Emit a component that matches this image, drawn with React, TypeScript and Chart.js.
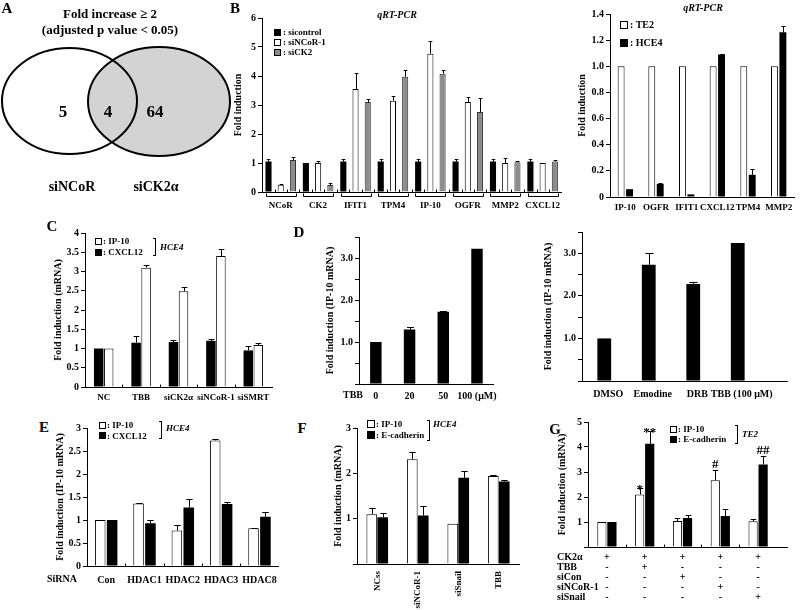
import React, { useEffect, useRef } from 'react';
import { Chart, registerables } from 'chart.js';
Chart.register(...registerables);

const FONT = '"Liberation Serif", "Times New Roman", serif';
Chart.defaults.font.family = FONT;
Chart.defaults.font.weight = 'bold';
Chart.defaults.color = '#000';

// ---------- DATA ----------
// A: Venn
const vennSets = ['siNCoR', 'siCK2α'];
const vennCounts = [5, 4, 64]; // siNCoR only, both, siCK2α only
const vennTitle = ['Fold increase ≥ 2', '(adjusted p value < 0.05)'];

// B (left): qRT-PCR
const bGenes = ['NCoR', 'CK2', 'IFIT1', 'TPM4', 'IP-10', 'OGFR', 'MMP2', 'CXCL12'];
const bNames = ['sicontrol', 'siNCoR-1', 'siCK2'];
const bSicontrol = [1.05, 1.0, 1.05, 1.05, 1.05, 1.05, 1.05, 1.05];
const bSicontrolErr = [0.08, 0, 0.08, 0.08, 0.08, 0.08, 0.08, 0.08];
const bSiNCoR = [0.25, 1.0, 3.55, 3.15, 4.77, 3.1, 1.0, 1.0];
const bSiNCoRErr = [0.03, 0.06, 0.55, 0.15, 0.45, 0.18, 0.17, 0.01];
const bSiCK2 = [1.1, 0.24, 3.1, 3.97, 4.08, 2.76, 1.03, 1.05];
const bSiCK2Err = [0.12, 0.07, 0.12, 0.25, 0.12, 0.48, 0.04, 0.05];

// B (right): qRT-PCR cell lines
const b2Genes = ['IP-10', 'OGFR', 'IFIT1', 'CXCL12', 'TPM4', 'MMP2'];
const b2Names = ['TE2', 'HCE4'];
const b2TE2 = [1, 1, 1, 1, 1, 1];
const b2HCE4 = [0.06, 0.1, 0.02, 1.09, 0.17, 1.26];
const b2HCE4Err = [0, 0.01, 0, 0.005, 0.045, 0.05];

// C
const cGroups = ['NC', 'TBB', 'siCK2α', 'siNCoR-1', 'siSMRT'];
const cNames = ['IP-10', 'CXCL12'];
const cCXCL12 = [1.0, 1.15, 1.17, 1.2, 0.95];
const cCXCL12Err = [0, 0.18, 0.06, 0.04, 0.12];
const cIP10 = [1.0, 3.1, 2.49, 3.4, 1.09];
const cIP10Err = [0, 0.07, 0.11, 0.18, 0.06];

// D (left): TBB dose
const dDoses = ['0', '20', '50', '100 (μM)'];
const dIP10 = [1.0, 1.3, 1.72, 3.22];
const dIP10Err = [0, 0.06, 0.01, 0];
// D (right): inhibitors
const d2Treat = ['DMSO', 'Emodine', 'DRB', 'TBB (100 μM)'];
const d2IP10 = [1.0, 2.73, 2.28, 3.24];
const d2IP10Err = [0, 0.27, 0.04, 0];

// E
const eGroups = ['Con', 'HDAC1', 'HDAC2', 'HDAC3', 'HDAC8'];
const eNames = ['IP-10', 'CXCL12'];
const eIP10 = [1.0, 1.36, 0.77, 2.73, 0.82];
const eIP10Err = [0, 0.02, 0.13, 0.03, 0.01];
const eCXCL12 = [1.0, 0.93, 1.27, 1.35, 1.07];
const eCXCL12Err = [0, 0.06, 0.18, 0.05, 0.1];

// F
const fGroups = ['NCss', 'siNCoR-1', 'siSnail', 'TBB'];
const fNames = ['IP-10', 'E-cadherin'];
const fIP10 = [1.1, 2.31, 0.89, 1.94];
const fIP10Err = [0.14, 0.15, 0, 0.03];
const fEcad = [1.03, 1.07, 1.9, 1.82];
const fEcadErr = [0.09, 0.21, 0.16, 0.03];

// G
const gRows = ['CK2α', 'TBB', 'siCon', 'siNCoR-1', 'siSnail'];
const gSigns = [
  ['+', '-', '-', '-', '-'],
  ['+', '+', '-', '-', '-'],
  ['+', '-', '+', '-', '-'],
  ['+', '-', '-', '+', '-'],
  ['+', '-', '-', '-', '+'],
];
const gNames = ['IP-10', 'E-cadherin'];
const gIP10 = [1.0, 2.1, 1.04, 2.67, 1.03];
const gIP10Err = [0, 0.26, 0.13, 0.4, 0.1];
const gEcad = [1.0, 4.13, 1.16, 1.24, 3.3];
const gEcadErr = [0, 0.5, 0.14, 0.29, 0.34];
const gMarksIP10 = ['', '*', '', '#', ''];
const gMarksEcad = ['', '**', '', '', '##'];

// ---------- STYLE ----------
const WHITE = '#ffffff';
const BLACK = '#000000';
const GREY = '#8c8c8c';

// ---------- PLUGINS ----------
const errorBarPlugin = {
  id: 'errorBars',
  afterDatasetsDraw(chart: any) {
    const { ctx } = chart;
    const y = chart.scales.y;
    chart.data.datasets.forEach((ds: any, di: number) => {
      const meta = chart.getDatasetMeta(di);
      meta.data.forEach((el: any, i: number) => {
        const v = ds.data[i];
        const e = ds.errors ? ds.errors[i] : 0;
        const xx = Math.round(el.x) + 0.5;
        const top = y.getPixelForValue(v + (e || 0));
        ctx.save();
        ctx.strokeStyle = '#000';
        ctx.lineWidth = 1;
        if (e) {
          const w = Math.max(3, el.width * 0.6);
          const t = Math.round(top) + 0.5;
          ctx.beginPath();
          ctx.moveTo(xx, el.y);
          ctx.lineTo(xx, t);
          ctx.moveTo(xx - w / 2, t);
          ctx.lineTo(xx + w / 2, t);
          ctx.stroke();
        }
        const m = ds.marks ? ds.marks[i] : '';
        if (m) {
          ctx.fillStyle = '#000';
          ctx.font = `bold 13px ${FONT}`;
          ctx.textAlign = 'center';
          ctx.textBaseline = 'alphabetic';
          const off = m.includes('*') ? 5 : -2;
          ctx.fillText(m, el.x, top + off);
        }
        ctx.restore();
      });
    });
  },
};

const decorPlugin = {
  id: 'decor',
  afterDraw(chart: any, _a: any, opts: any) {
    const { ctx, chartArea: a } = chart;
    const x = chart.scales.x;
    const labels = chart.data.labels;
    const n = labels.length;
    const cw = (a.right - a.left) / n;
    const yb = Math.round(a.bottom) + 0.5;
    ctx.save();
    ctx.strokeStyle = '#000';
    ctx.lineWidth = 1;
    ctx.beginPath();
    if (opts.extend) {
      ctx.moveTo(a.right, yb);
      ctx.lineTo(a.right + opts.extend, yb);
    }
    if (opts.inner) {
      for (let i = 1; i < n; i++) {
        const xx = Math.round(x.getPixelForValue(i) - cw / 2) + 0.5;
        ctx.moveTo(xx, yb);
        ctx.lineTo(xx, yb - opts.inner);
      }
    }
    if (opts.innerBars) {
      const k = opts.innerBars;
      for (let i = 0; i < n; i++) {
        const cx = x.getPixelForValue(i);
        const slot = (cw * 0.98) / k;
        for (let j = 1; j < k; j++) {
          const xx = Math.round(cx - (cw * 0.98) / 2 + j * slot) + 0.5;
          ctx.moveTo(xx, yb);
          ctx.lineTo(xx, yb - 3);
        }
      }
    }
    if (opts.brackets) {
      for (let i = 0; i < n; i++) {
        const cx = x.getPixelForValue(i);
        const h = (cw * opts.brackets) / 2;
        const y0 = yb + 4;
        ctx.moveTo(Math.round(cx - h) + 0.5, y0 - 3);
        ctx.lineTo(Math.round(cx - h) + 0.5, y0);
        ctx.lineTo(Math.round(cx + h) + 0.5, y0);
        ctx.lineTo(Math.round(cx + h) + 0.5, y0 - 3);
      }
    }
    ctx.stroke();
    if (opts.table) {
      const tb = opts.table;
      ctx.fillStyle = '#000';
      ctx.font = `bold 10px ${FONT}`;
      ctx.textBaseline = 'middle';
      tb.rows.forEach((row: string, r: number) => {
        const yy = a.bottom + tb.dy + r * tb.step;
        ctx.textAlign = 'left';
        ctx.fillText(row, tb.rowX, yy);
        ctx.textAlign = 'center';
        labels.forEach((col: string[], i: number) => {
          ctx.fillText(col[r], x.getPixelForValue(i), yy);
        });
      });
    }
    ctx.restore();
  },
};

const vennPlugin = {
  id: 'venn',
  afterDraw(chart: any, _a: any, opts: any) {
    const { ctx } = chart;
    const x = chart.scales.x;
    const y = chart.scales.y;
    const sx = (r: number) => Math.abs(x.getPixelForValue(r) - x.getPixelForValue(0));
    const sy = (r: number) => Math.abs(y.getPixelForValue(r) - y.getPixelForValue(0));
    const ell = (e: number[]) => {
      ctx.beginPath();
      ctx.ellipse(x.getPixelForValue(e[0]), y.getPixelForValue(e[1]), sx(e[2]), sy(e[3]), 0, 0, Math.PI * 2);
    };
    ctx.save();
    ell(opts.right);
    ctx.fillStyle = '#d3d3d3';
    ctx.fill();
    ctx.lineWidth = 2;
    ctx.strokeStyle = '#000';
    ell(opts.left);
    ctx.stroke();
    ell(opts.right);
    ctx.stroke();
    ctx.fillStyle = '#000';
    ctx.textAlign = 'center';
    ctx.textBaseline = 'middle';
    ctx.font = `bold 17px ${FONT}`;
    const meta = chart.getDatasetMeta(0);
    meta.data.forEach((el: any, i: number) => {
      ctx.fillText(String(vennCounts[i]), el.x, el.y);
    });
    ctx.font = `bold 14px ${FONT}`;
    opts.labelPos.forEach((p: number[], i: number) => {
      ctx.fillText(vennSets[i], x.getPixelForValue(p[0]), y.getPixelForValue(p[1]));
    });
    ctx.restore();
  },
};

// ---------- CONFIG BUILDERS ----------
function barConfig(s: any) {
  const [bx, by, bw, bh] = s.box;
  const [pl, pt, pr, pb] = s.plot;
  const rot = s.rot ?? 0;
  return {
    type: 'bar',
    data: {
      labels: s.labels,
      datasets: s.series.map((d: any) => ({
        data: d.data,
        errors: d.err,
        marks: d.marks,
        backgroundColor: d.fill,
        borderColor: d.fill === GREY ? '#333' : '#000',
        borderWidth: d.fill === BLACK ? 0 : 1,
        categoryPercentage: s.cat,
        barPercentage: s.bar,
      })),
    },
    options: {
      responsive: false,
      animation: false,
      events: [],
      layout: { padding: { top: pt - by, right: bx + bw - pr, left: 0, bottom: 0 } },
      plugins: { legend: { display: false }, tooltip: { enabled: false }, decor: s.decor || {} },
      scales: {
        x: {
          offset: true,
          grid: { display: false, drawTicks: false },
          border: { display: true, color: '#000', width: 1 },
          ticks: {
            display: s.xTicks !== false,
            autoSkip: false,
            maxRotation: rot,
            minRotation: rot,
            padding: s.xPad,
            labelOffset: s.xOff ?? 0,
            color: '#000',
            font: { size: s.xFont ?? 10, weight: 'bold' },
          },
          afterFit: (sc: any) => {
            sc.height = by + bh - pb;
          },
        },
        y: {
          min: 0,
          max: s.yMax,
          border: { display: true, color: '#000', width: 1 },
          grid: { drawOnChartArea: false, drawTicks: true, tickLength: 4, color: '#000' },
          ticks: {
            stepSize: s.yStep,
            padding: 2,
            color: '#000',
            autoSkip: false,
            font: { size: s.yFont ?? 10, weight: 'bold' },
            callback: s.yFmt,
          },
          title: { display: true, text: s.yTitle, padding: 0, color: '#000', font: { size: 10, weight: 'bold' } },
          afterFit: (sc: any) => {
            sc.width = pl - bx;
          },
        },
      },
    },
    plugins: [errorBarPlugin, decorPlugin],
  };
}

const fmtPlain = (v: number) => String(Math.round(v * 10) / 10);
const fmtFixed = (v: number) => (v === 0 ? '0' : v.toFixed(1));
const fmtIntFixed = (v: number) => (Math.abs(v - Math.round(v)) < 1e-6 && v > 0 ? v.toFixed(1) : '');
const fmtNoZero = (v: number) => (v === 0 ? '' : String(v));

const specs: any[] = [
  {
    key: 'B1',
    box: [232, 8, 336, 212],
    plot: [262, 18, 566, 192],
    labels: bGenes,
    series: [
      { data: bSicontrol, err: bSicontrolErr, fill: BLACK },
      { data: bSiNCoR, err: bSiNCoRErr, fill: WHITE },
      { data: bSiCK2, err: bSiCK2Err, fill: GREY },
    ],
    cat: 0.98,
    bar: 0.5,
    yMax: 6,
    yStep: 1,
    yFmt: fmtPlain,
    yTitle: 'Fold induction',
    xPad: 8,
    xFont: 9,
    decor: { brackets: 0.8, inner: 3, innerBars: 3 },
  },
  {
    key: 'B2',
    box: [576, 2, 224, 218],
    plot: [610, 14, 794, 197],
    labels: b2Genes,
    series: [
      { data: b2TE2, fill: WHITE },
      { data: b2HCE4, err: b2HCE4Err, fill: BLACK },
    ],
    cat: 0.55,
    bar: 0.82,
    yMax: 1.4,
    yStep: 0.2,
    yFmt: fmtFixed,
    yTitle: 'Fold induction',
    xPad: 5,
    xFont: 9,
  },
  {
    key: 'C',
    box: [52, 223, 223, 187],
    plot: [85, 233, 272, 387],
    labels: cGroups,
    series: [
      { data: cCXCL12, err: cCXCL12Err, fill: BLACK },
      { data: cIP10, err: cIP10Err, fill: WHITE },
    ],
    cat: 0.535,
    bar: 0.95,
    yMax: 4,
    yStep: 0.5,
    yFmt: fmtPlain,
    yTitle: 'Fold induction (mRNA)',
    xPad: 5,
    xFont: 9,
    decor: { inner: 3 },
  },
  {
    key: 'D1',
    box: [324, 227, 179, 183],
    plot: [359, 237, 500, 384],
    labels: dDoses,
    series: [{ data: dIP10, err: dIP10Err, fill: BLACK }],
    cat: 1,
    bar: 0.34,
    yMax: 3.5,
    yStep: 0.5,
    yFmt: fmtIntFixed,
    yTitle: 'Fold induction (IP-10 mRNA)',
    xPad: 6,
  },
  {
    key: 'D2',
    box: [542, 222, 258, 188],
    plot: [582, 232, 760, 381],
    labels: d2Treat,
    series: [{ data: d2IP10, err: d2IP10Err, fill: BLACK }],
    cat: 1,
    bar: 0.31,
    yMax: 3.5,
    yStep: 0.5,
    yFmt: fmtIntFixed,
    yTitle: 'Fold induction (IP-10 mRNA)',
    xPad: 7,
    xOff: 4,
    decor: { extend: 28 },
  },
  {
    key: 'E',
    box: [54, 418, 231, 192],
    plot: [87, 428, 282, 566],
    labels: eGroups,
    series: [
      { data: eIP10, err: eIP10Err, fill: WHITE },
      { data: eCXCL12, err: eCXCL12Err, fill: BLACK },
    ],
    cat: 0.62,
    bar: 0.89,
    yMax: 3,
    yStep: 0.5,
    yFmt: fmtPlain,
    yTitle: 'Fold induction (IP-10 mRNA)',
    xPad: 8,
    decor: { inner: 3 },
  },
  {
    key: 'F',
    box: [332, 418, 191, 192],
    plot: [357, 428, 519, 564],
    labels: fGroups,
    series: [
      { data: fIP10, err: fIP10Err, fill: WHITE },
      { data: fEcad, err: fEcadErr, fill: BLACK },
    ],
    cat: 0.54,
    bar: 0.98,
    yMax: 3,
    yStep: 1,
    yFmt: fmtNoZero,
    yTitle: 'Fold induction (mRNA)',
    xPad: 7,
    xFont: 9,
    rot: 90,
  },
  {
    key: 'G',
    box: [556, 412, 244, 198],
    plot: [588, 422, 777, 547],
    labels: gSigns,
    series: [
      { data: gIP10, err: gIP10Err, fill: WHITE, marks: gMarksIP10 },
      { data: gEcad, err: gEcadErr, fill: BLACK, marks: gMarksEcad },
    ],
    cat: 0.53,
    bar: 0.92,
    yMax: 5,
    yStep: 1,
    yFmt: fmtNoZero,
    yTitle: 'Fold induction (mRNA)',
    xPad: 5,
    xTicks: false,
    decor: { inner: 3, extend: 11, table: { rows: gRows, rowX: 1, dy: 10, step: 10 } },
  },
];

function vennConfig() {
  return {
    type: 'scatter',
    data: {
      datasets: [
        {
          data: [
            { x: 63, y: 113 },
            { x: 108, y: 113 },
            { x: 155, y: 113 },
          ],
          pointRadius: 0,
        },
      ],
    },
    options: {
      responsive: false,
      animation: false,
      events: [],
      layout: { padding: 0 },
      plugins: {
        legend: { display: false },
        tooltip: { enabled: false },
        venn: {
          left: [69.5, 101, 67.5, 53],
          right: [159, 101.5, 71, 54.5],
          labelPos: [
            [72, 187],
            [156, 187],
          ],
        },
      },
      scales: {
        x: { type: 'linear', display: false, min: 0, max: 232 },
        y: { type: 'linear', display: false, min: 0, max: 200, reverse: true },
      },
    },
    plugins: [vennPlugin],
  };
}

// ---------- COMPONENTS ----------
function ChartBox({ box, make }: { box: number[]; make: () => any }) {
  const ref = useRef<HTMLCanvasElement>(null);
  useEffect(() => {
    const c = new Chart(ref.current as HTMLCanvasElement, make());
    return () => c.destroy();
  }, []);
  return (
    <canvas
      ref={ref}
      width={box[2]}
      height={box[3]}
      style={{ position: 'absolute', left: box[0], top: box[1], width: box[2], height: box[3] }}
    />
  );
}

function T({ x, y, children, size = 10, align = 'left', italic = false }: any) {
  const tx = align === 'center' ? '-50%' : align === 'right' ? '-100%' : '0';
  return (
    <div
      style={{
        position: 'absolute',
        left: x,
        top: y,
        transform: `translate(${tx}, -50%)`,
        font: `${italic ? 'italic ' : ''}bold ${size}px ${FONT}`,
        whiteSpace: 'nowrap',
        lineHeight: 1,
        color: '#000',
      }}
    >
      {children}
    </div>
  );
}

function Sw({ x, y, s = 7, fill }: any) {
  return (
    <div
      style={{
        position: 'absolute',
        left: x,
        top: y - s / 2,
        width: s,
        height: s,
        boxSizing: 'border-box',
        border: '1px solid #000',
        background: fill,
      }}
    />
  );
}

function Brk({ x, y1, y2 }: any) {
  return (
    <div
      style={{
        position: 'absolute',
        left: x - 3,
        top: y1,
        width: 3,
        height: y2 - y1,
        boxSizing: 'border-box',
        borderTop: '1px solid #000',
        borderRight: '1px solid #000',
        borderBottom: '1px solid #000',
      }}
    />
  );
}

export default function App() {
  return (
    <div style={{ position: 'absolute', left: 0, top: 0, width: 800, height: 610, background: '#fff', overflow: 'hidden' }}>
      <ChartBox box={[0, 0, 232, 200]} make={vennConfig} />
      {specs.map((s) => (
        <ChartBox key={s.key} box={s.box} make={() => barConfig(s)} />
      ))}

      {/* panel letters */}
      <T x={7} y={8} size={15} align="center">A</T>
      <T x={235} y={8} size={15} align="center">B</T>
      <T x={52} y={226} size={15} align="center">C</T>
      <T x={299} y={232} size={15} align="center">D</T>
      <T x={44} y={427} size={15} align="center">E</T>
      <T x={302} y={428} size={15} align="center">F</T>
      <T x={555} y={429} size={15} align="center">G</T>

      {/* A title */}
      <T x={110} y={13} size={13} align="center">{vennTitle[0]}</T>
      <T x={110} y={29} size={13} align="center">{vennTitle[1]}</T>

      {/* B titles */}
      <T x={397} y={15} size={10} align="center" italic>qRT-PCR</T>
      <T x={703} y={8} size={10} align="center" italic>qRT-PCR</T>

      {/* B left legend */}
      <Sw x={274} y={32} fill={BLACK} />
      <T x={283} y={32} size={9}>: {bNames[0]}</T>
      <Sw x={274} y={42} fill={WHITE} />
      <T x={283} y={42} size={9}>: {bNames[1]}</T>
      <Sw x={274} y={52} fill={GREY} />
      <T x={283} y={52} size={9}>: {bNames[2]}</T>

      {/* B right legend */}
      <Sw x={620} y={25} s={8} fill={WHITE} />
      <T x={630} y={25} size={10}>: {b2Names[0]}</T>
      <Sw x={620} y={43} s={8} fill={BLACK} />
      <T x={630} y={43} size={10}>: {b2Names[1]}</T>

      {/* C legend */}
      <Sw x={95} y={241} fill={WHITE} />
      <T x={103} y={241} size={9}>: {cNames[0]}</T>
      <Sw x={95} y={252} fill={BLACK} />
      <T x={103} y={252} size={9}>: {cNames[1]}</T>
      <Brk x={156} y1={238} y2={256} />
      <T x={160} y={247} size={9} italic>HCE4</T>

      {/* D extra label */}
      <T x={353} y={395} size={10} align="center">TBB</T>

      {/* E legend */}
      <Sw x={99} y={425} fill={WHITE} />
      <T x={107} y={425} size={9}>: {eNames[0]}</T>
      <Sw x={99} y={435.5} fill={BLACK} />
      <T x={107} y={435.5} size={9}>: {eNames[1]}</T>
      <Brk x={162} y1={421} y2={439} />
      <T x={166} y={428} size={9} italic>HCE4</T>
      <T x={62} y={579} size={10} align="center">SiRNA</T>

      {/* F legend */}
      <Sw x={367} y={423.5} s={8} fill={WHITE} />
      <T x={376} y={423.5} size={9}>: {fNames[0]}</T>
      <Sw x={367} y={435} s={8} fill={BLACK} />
      <T x={376} y={435} size={9}>: {fNames[1]}</T>
      <Brk x={430} y1={420} y2={441} />
      <T x={433} y={424} size={9} italic>HCE4</T>

      {/* G legend */}
      <Sw x={670} y={429} fill={WHITE} />
      <T x={678} y={429} size={9}>: {gNames[0]}</T>
      <Sw x={670} y={439} fill={BLACK} />
      <T x={678} y={439} size={9}>: {gNames[1]}</T>
      <Brk x={738} y1={425} y2={444} />
      <T x={742} y={434} size={9} italic>TE2</T>
    </div>
  );
}
